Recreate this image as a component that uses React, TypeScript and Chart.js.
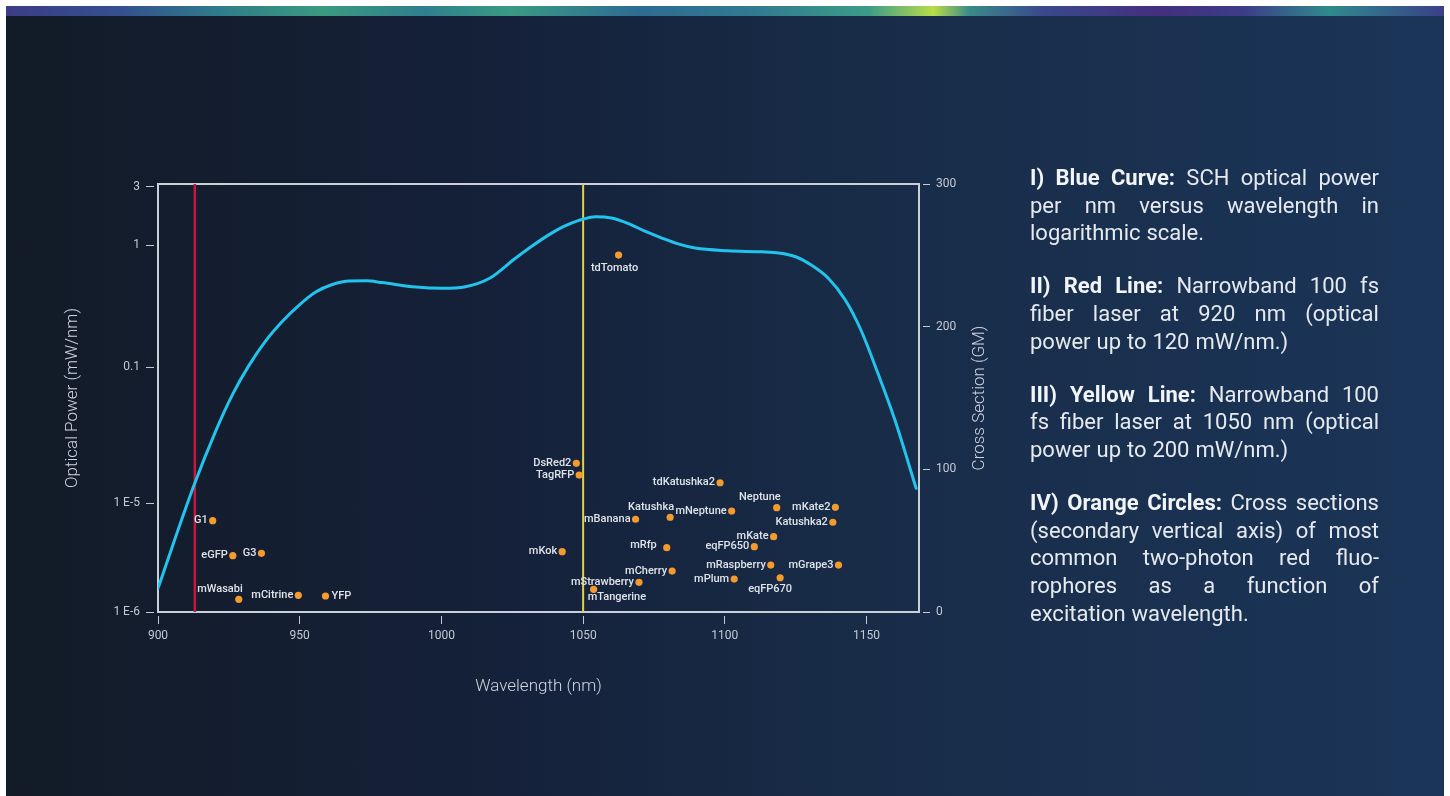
import React, { useEffect, useRef } from "react";
import { Chart, registerables } from "chart.js";

Chart.register(...registerables);

// ---------- axes ----------
const wavelengthTicks = [900, 950, 1000, 1050, 1100, 1150];
const wavelengthMin = 900;
const wavelengthMax = 1168.5;

// left axis is drawn in decade units; tick labels as printed in the figure
const powerAxisMin = -3;
const powerAxisMax = 0.5;
const powerTickValues = [Math.log10(3), 0, -1, -2.11, -3];
const powerTickLabels = ["3", "1", "0.1", "1 E-5", "1 E-6"];

const crossTickValues = [0, 100, 200, 300];
const crossAxisMin = 0;
const crossAxisMax = 300;

// ---------- blue curve: SCH optical power (decade units) ----------
const schWavelength = [
  900, 912.5, 920.5, 926.5, 932, 938, 944, 950, 955.5, 961.5, 967.5, 973.5, 979, 991, 1000,
  1008.5, 1017, 1026, 1032, 1038, 1043, 1048.5, 1054.5, 1060, 1066, 1072, 1078, 1083.5, 1089.5,
  1101, 1113, 1119, 1125, 1130.5, 1136.5, 1142.5, 1148, 1154, 1160, 1167.5,
];
const schLogPower = [
  -2.806, -1.976, -1.512, -1.212, -0.987, -0.783, -0.621, -0.486, -0.385, -0.322, -0.293, -0.292,
  -0.306, -0.343, -0.353, -0.34, -0.271, -0.109, -0.007, 0.086, 0.151, 0.203, 0.233, 0.222, 0.176,
  0.112, 0.056, 0.01, -0.024, -0.046, -0.055, -0.064, -0.095, -0.163, -0.271, -0.449, -0.694,
  -1.048, -1.43, -1.989,
];

// ---------- laser lines ----------
const redLaserNm = 913;
const yellowLaserNm = 1050;

// ---------- orange circles: two-photon cross sections ----------
const fluorophoreNames = [
  "G1", "eGFP", "G3", "mWasabi", "mCitrine", "YFP", "tdTomato", "DsRed2", "TagRFP",
  "tdKatushka2", "Neptune", "mKate2", "Katushka2", "mNeptune", "Katushka", "mBanana", "mKate",
  "eqFP650", "mRfp", "mKok", "mRaspberry", "mGrape3", "mCherry", "mPlum", "eqFP670",
  "mStrawberry", "mTangerine",
];
const fluorophoreWavelength = [
  919.3, 926.4, 936.5, 928.5, 949.5, 959.1, 1062.5, 1047.6, 1048.6, 1098.3, 1118.3, 1139.0,
  1138.1, 1102.4, 1080.7, 1068.5, 1117.2, 1110.4, 1079.5, 1042.6, 1116.2, 1140.1, 1081.4,
  1103.3, 1119.5, 1069.7, 1053.7,
];
const fluorophoreCrossSection = [
  64.0, 39.5, 41.1, 8.9, 11.7, 11.2, 250.2, 104.2, 96.0, 90.6, 73.1, 73.4, 62.9, 70.8, 66.4,
  65.0, 52.8, 45.8, 45.1, 42.3, 32.9, 32.9, 28.7, 23.1, 24.0, 20.8, 15.9,
];
const labelPlacement = [
  "left", "left", "left", "aboveLeft", "left", "right", "below", "left", "left",
  "left", "aboveLeft", "left", "left", "left", "aboveLeft", "left", "left",
  "left", "leftWide", "left", "left", "left", "left", "left", "belowLeft",
  "left", "belowRight",
];

const placementStyle: Record<string, { align: CanvasTextAlign; dx: number; dy: number }> = {
  left: { align: "right", dx: -5, dy: 0 },
  leftWide: { align: "right", dx: -10, dy: -2 },
  right: { align: "left", dx: 6, dy: 0 },
  below: { align: "center", dx: -4, dy: 13 },
  aboveLeft: { align: "right", dx: 4, dy: -10 },
  belowLeft: { align: "right", dx: 12, dy: 11 },
  belowRight: { align: "left", dx: -6, dy: 8 },
};

// ---------- side text ----------
const notes = [
  {
    bold: "I) Blue Curve:",
    lines: ["I) Blue Curve: SCH optical power", "per nm versus wavelength in", "logarithmic scale."],
  },
  {
    bold: "II) Red Line:",
    lines: ["II) Red Line: Narrowband 100 fs", "fiber laser at 920 nm (optical", "power up to 120 mW/nm.)"],
  },
  {
    bold: "III) Yellow Line:",
    lines: ["III) Yellow Line: Narrowband 100", "fs fiber laser at 1050 nm (optical", "power up to 200 mW/nm.)"],
  },
  {
    bold: "IV) Orange Circles:",
    lines: [
      "IV) Orange Circles: Cross sections",
      "(secondary vertical axis) of most",
      "common two-photon red fluo-",
      "rophores as a function of",
      "excitation wavelength.",
    ],
  },
];

const FONT = "Roboto, 'Open Sans', sans-serif";
const TICK_COLOR = "#c3cad4";
const FRAME_COLOR = "#c9d0d8";

const framePlugin = {
  id: "frame",
  beforeDatasetsDraw(chart: any) {
    const { ctx, chartArea: a } = chart;
    ctx.save();
    ctx.strokeStyle = FRAME_COLOR;
    ctx.lineWidth = 2;
    ctx.strokeRect(a.left, a.top, a.right - a.left, a.bottom - a.top);
    ctx.restore();
  },
};

const labelPlugin = {
  id: "fluoLabels",
  afterDatasetsDraw(chart: any) {
    const meta = chart.getDatasetMeta(0);
    const ctx = chart.ctx;
    ctx.save();
    ctx.font = `500 11px ${FONT}`;
    ctx.fillStyle = "#dfe4ea";
    ctx.textBaseline = "middle";
    meta.data.forEach((pt: any, i: number) => {
      const p = placementStyle[labelPlacement[i]];
      ctx.textAlign = p.align;
      ctx.fillText(fluorophoreNames[i], pt.x + p.dx, pt.y + p.dy);
    });
    ctx.restore();
  },
};

const rightTitlePlugin = {
  id: "rightTitle",
  afterDraw(chart: any) {
    const { ctx, chartArea: a } = chart;
    ctx.save();
    ctx.translate(980, (a.top + a.bottom) / 2);
    ctx.rotate(-Math.PI / 2);
    ctx.font = `300 17px ${FONT}`;
    ctx.fillStyle = "#cfd5dd";
    ctx.textAlign = "center";
    ctx.textBaseline = "middle";
    ctx.fillText("Cross Section (GM)", 0, 0);
    ctx.restore();
  },
};

function NoteLine({ text, bold, last }: { text: string; bold: string; last: boolean }) {
  const boldWords = bold ? bold.split(" ").length : 0;
  const startsBold = bold && text.startsWith(bold);
  const words = text.split(" ");
  return (
    <div
      style={{
        display: "flex",
        justifyContent: last ? "flex-start" : "space-between",
        gap: last ? "0.27em" : 0,
        height: 27.6,
        lineHeight: "27.6px",
        whiteSpace: "nowrap",
      }}
    >
      {words.map((w, i) => (
        <span key={i} style={{ fontWeight: startsBold && i < boldWords ? 700 : 400, color: startsBold && i < boldWords ? "#f2f5f8" : "#e6eaef" }}>
          {w}
        </span>
      ))}
    </div>
  );
}

export default function App() {
  const ref = useRef<HTMLCanvasElement>(null);

  useEffect(() => {
    const tickFont = { family: FONT, size: 12 };
    const chart = new Chart(ref.current as HTMLCanvasElement, {
      type: "scatter",
      data: {
        datasets: [
          {
            label: "Cross sections",
            data: fluorophoreWavelength.map((x, i) => ({ x, y: fluorophoreCrossSection[i] })),
            xAxisID: "x",
            yAxisID: "y2",
            backgroundColor: "#f59a2c",
            borderWidth: 0,
            pointRadius: 3.6,
            order: 0,
          } as any,
          {
            label: "SCH optical power",
            data: schWavelength.map((x, i) => ({ x, y: schLogPower[i] })),
            xAxisID: "x",
            yAxisID: "y",
            showLine: true,
            borderColor: "#22c3ec",
            borderWidth: 3,
            pointRadius: 0,
            cubicInterpolationMode: "monotone",
            borderJoinStyle: "round",
            borderCapStyle: "round",
            order: 1,
          },
          {
            label: "920 nm laser",
            data: [
              { x: redLaserNm, y: powerAxisMin },
              { x: redLaserNm, y: powerAxisMax },
            ],
            xAxisID: "x",
            yAxisID: "y",
            showLine: true,
            borderColor: "#c8173d",
            borderWidth: 2.5,
            pointRadius: 0,
            order: 2,
          },
          {
            label: "1050 nm laser",
            data: [
              { x: yellowLaserNm, y: powerAxisMin },
              { x: yellowLaserNm, y: powerAxisMax },
            ],
            xAxisID: "x",
            yAxisID: "y",
            showLine: true,
            borderColor: "#e3d24c",
            borderWidth: 2,
            pointRadius: 0,
            order: 2,
          },
        ],
      },
      options: {
        responsive: false,
        animation: false,
        devicePixelRatio: 1,
        layout: { padding: { left: 60, right: 459, top: 184, bottom: 94 } },
        plugins: { legend: { display: false }, tooltip: { enabled: false } },
        scales: {
          x: {
            type: "linear",
            position: "bottom",
            min: wavelengthMin,
            max: wavelengthMax,
            afterBuildTicks: (s: any) => {
              s.ticks = wavelengthTicks.map((value) => ({ value }));
            },
            afterFit: (s: any) => {
              s.height = 90;
            },
            ticks: { color: TICK_COLOR, font: tickFont, padding: 5, callback: (v: any) => String(v), maxRotation: 0 },
            grid: {
              display: true,
              drawOnChartArea: false,
              tickLength: 12,
              tickColor: TICK_COLOR,
              tickWidth: 1,
              tickBorderDash: [8, 4],
              tickBorderDashOffset: 8,
            },
            border: { display: false },
            title: {
              display: true,
              text: "Wavelength (nm)",
              color: "#cfd5dd",
              font: { family: FONT, size: 17, weight: "300" },
              padding: { top: 0, bottom: 5 },
            },
          },
          y: {
            type: "linear",
            position: "left",
            min: powerAxisMin,
            max: powerAxisMax,
            afterBuildTicks: (s: any) => {
              s.ticks = powerTickValues.map((value) => ({ value }));
            },
            afterFit: (s: any) => {
              s.width = 98;
            },
            ticks: {
              color: TICK_COLOR,
              font: tickFont,
              padding: 6,
              callback: (v: any) => {
                const i = powerTickValues.findIndex((t) => Math.abs(t - v) < 1e-9);
                return i >= 0 ? powerTickLabels[i] : "";
              },
            },
            grid: {
              display: true,
              drawOnChartArea: false,
              tickLength: 12,
              tickColor: TICK_COLOR,
              tickWidth: 1,
              tickBorderDash: [8, 4],
              tickBorderDashOffset: 0,
            },
            border: { display: false },
            title: {
              display: true,
              text: "Optical Power (mW/nm)",
              color: "#cfd5dd",
              font: { family: FONT, size: 17, weight: "300" },
              padding: { top: 3, bottom: 0 },
            },
          },
          y2: {
            type: "linear",
            position: "right",
            min: crossAxisMin,
            max: crossAxisMax,
            afterBuildTicks: (s: any) => {
              s.ticks = crossTickValues.map((value) => ({ value }));
            },
            afterFit: (s: any) => {
              s.width = 72;
            },
            ticks: { color: TICK_COLOR, font: tickFont, padding: 6, callback: (v: any) => String(v) },
            grid: {
              display: true,
              drawOnChartArea: false,
              tickLength: 11,
              tickColor: TICK_COLOR,
              tickWidth: 1,
              tickBorderDash: [7, 4],
              tickBorderDashOffset: 7,
            },
            border: { display: false },
          },
        },
      } as any,
      plugins: [framePlugin, labelPlugin, rightTitlePlugin],
    });
    return () => chart.destroy();
  }, []);

  return (
    <div style={{ position: "absolute", left: 0, top: 0, width: 1450, height: 796, background: "#ffffff", overflow: "hidden", fontFamily: FONT }}>
      <div
        style={{
          position: "absolute",
          left: 6,
          top: 6,
          width: 1438,
          height: 790,
          background: "linear-gradient(90deg, #121b27 0%, #15213a 35%, #182c48 60%, #1b3558 100%)",
        }}
      />
      <div
        style={{
          position: "absolute",
          left: 6,
          top: 6,
          width: 1438,
          height: 10,
          background:
            "linear-gradient(90deg, #3b3d86 0%, #34508f 8%, #2f7d8a 15%, #3a9a80 22%, #2f7f8f 29%, #3a9a84 35%, #2e6c92 44%, #317a90 52%, #3c9c88 60%, #b8dc48 64.5%, #3a8a8a 67%, #3a4a8c 72%, #442f7e 80%, #3d3c88 86%, #2f8a8c 92%, #3a4088 100%)",
        }}
      />
      <canvas ref={ref} width={1450} height={796} style={{ position: "absolute", left: 0, top: 0, width: 1450, height: 796 }} />
      <div style={{ position: "absolute", left: 1030, top: 164, width: 349, fontSize: 22 }}>
        {notes.map((n, pi) => (
          <div key={pi} style={{ marginTop: pi === 0 ? 0 : 25.6 }}>
            {n.lines.map((l, li) => (
              <NoteLine key={li} text={l} bold={li === 0 ? n.bold : ""} last={li === n.lines.length - 1} />
            ))}
          </div>
        ))}
      </div>
    </div>
  );
}
